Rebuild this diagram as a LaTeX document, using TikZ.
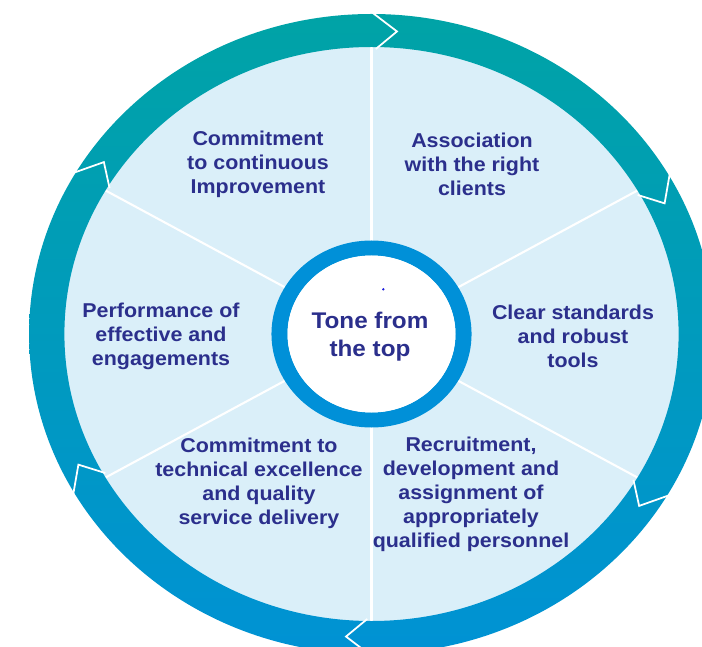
\documentclass[tikz,border=0pt]{standalone}
\usepackage{fontspec}
\setmainfont{Liberation Sans}
\newfontfamily\wheelfont[FakeStretch=1.07]{Liberation Sans}
\definecolor{ringteal}{RGB}{0,163,166}
\definecolor{ringblue}{RGB}{0,146,212}
\definecolor{diskblue}{RGB}{218,239,249}
\definecolor{hubblue}{RGB}{0,144,216}
\definecolor{labelnavy}{RGB}{43,47,140}
\definecolor{dotblue}{RGB}{30,30,220}
\begin{document}
\begin{tikzpicture}[x=0.02cm, y=0.02cm,
    segtext/.style={align=center, text=labelnavy, inner sep=0pt, font=\wheelfont\bfseries\fontsize{11.4}{13.7}\selectfont},
    hubtext/.style={segtext, font=\wheelfont\bfseries\fontsize{12.9}{15.7}\selectfont},
    spoke/.style={white, line width=1.2pt},
    notch/.style={white, line width=1pt, line join=miter}
]
    \useasboundingbox (0,0) rectangle (702,646);
    \clip (0,0) rectangle (702,646);

    % wheel, ring and hub
    \begin{scope}[shift={(371.5,312)}, xscale=1.07]
        \coordinate (c) at (0,0);
        \fill[diskblue] (c) circle[radius=288];
        \foreach \a in {90,30,...,-210}
            \draw[spoke] (\a:93) -- (\a:288);
        \shade[top color=ringteal, bottom color=ringblue, even odd rule]
            (c) circle[radius=320] (c) circle[radius=287];
        \foreach \a in {90,30,...,-210}
            \draw[notch] (\a:322) -- (\a-4.5:303.5) -- (\a-0.8:285);
        \fill[hubblue, even odd rule] (c) circle[radius=93.5] (c) circle[radius=78.5];
        \fill[white] (c) circle[radius=78.5];
    \end{scope}

    % labels
    \node[hubtext] (tone) at (370,309.5) {Tone from\\the top};
    \fill[dotblue] (383.3,356.7) circle[radius=1.3];
    \node[segtext] (improve) at (258,482) {Commitment\\to continuous\\Improvement};
    \node[segtext] (clients) at (472,482) {Association\\with the right\\clients};
    \node[segtext] (standards) at (573,310) {Clear standards\\and robust\\tools};
    \node[segtext] (engage) at (161,310) {Performance of\\effective and\\engagements};
    \node[segtext] (delivery) at (259,163) {Commitment to\\technical excellence\\and quality\\service delivery};
    \node[segtext] (personnel) at (471,151.5) {Recruitment,\\development and\\assignment of\\appropriately\\qualified personnel};
\end{tikzpicture}
\end{document}
